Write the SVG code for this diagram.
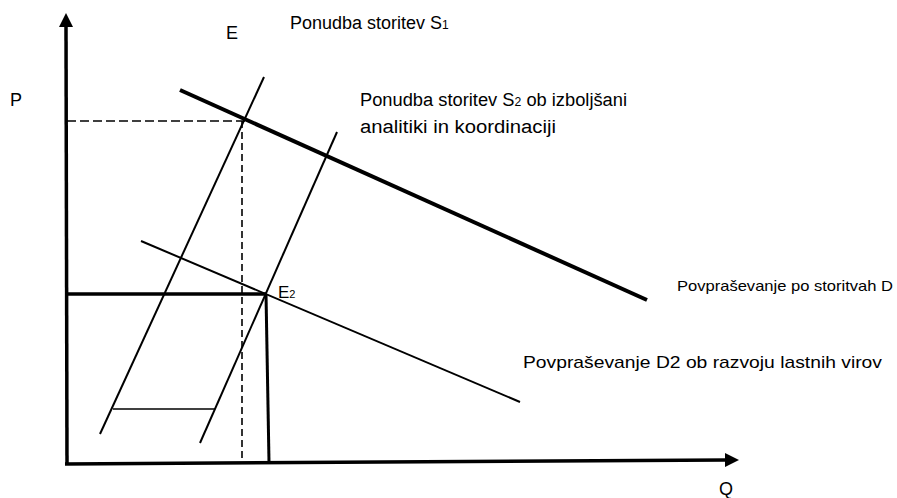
<svg xmlns="http://www.w3.org/2000/svg" width="897" height="498" viewBox="0 0 897 498">
<style>
text{font-family:"Liberation Sans",Arial,sans-serif;fill:#000}
.ln{stroke:#000;fill:none;stroke-linecap:butt}
.dash{stroke:#000;stroke-width:1.6;fill:none}
</style>
<defs>
<marker id="arr" viewBox="0 0 14 14" refX="1" refY="7" markerWidth="14" markerHeight="14" markerUnits="userSpaceOnUse" orient="auto">
<path d="M0,0 L14,7 L0,14 Z" fill="#000"/>
</marker>
</defs>
<rect width="897" height="498" fill="#fff"/>
<g id="axes">
<line class="ln" x1="67" y1="464" x2="66" y2="26" stroke-width="3.5" marker-end="url(#arr)"/>
<line class="ln" x1="65" y1="464" x2="726" y2="460" stroke-width="3.5" marker-end="url(#arr)"/>
</g>
<g id="connectors">
<line id="demandD" class="ln" x1="180" y1="90" x2="647" y2="300" stroke-width="4"/>
<line id="supplyS1" class="ln" x1="264" y1="77" x2="100" y2="434" stroke-width="2"/>
<line id="supplyS2" class="ln" x1="337" y1="132" x2="200" y2="443" stroke-width="2"/>
<line id="demandD2" class="ln" x1="141" y1="241" x2="520" y2="402" stroke-width="2"/>
<line id="shift" class="ln" x1="113" y1="409" x2="215" y2="409" stroke-width="1.6"/>
<line class="dash" x1="67" y1="121" x2="245" y2="121" stroke-dasharray="9,4"/>
<line class="dash" x1="242" y1="121" x2="242" y2="462" stroke-dasharray="7,4"/>
<line class="ln" x1="67" y1="294" x2="266" y2="294" stroke-width="3.5"/>
<line class="ln" x1="266" y1="294" x2="269" y2="462" stroke-width="3"/>
</g>
<g id="labels">
<text id="lblP" x="10" y="106" font-size="18">P</text>
<text id="lblQ" x="719" y="495" font-size="18">Q</text>
<text id="lblE" x="226" y="39" font-size="18">E</text>
<text id="lblE2" x="278" y="298" font-size="17">E<tspan font-size="11">2</tspan></text>
<text id="lblS1" x="290" y="29" font-size="18"><tspan textLength="152" lengthAdjust="spacingAndGlyphs">Ponudba storitev S</tspan><tspan font-size="12">1</tspan></text>
<text id="lblS2a" x="360" y="106" font-size="18" textLength="267" lengthAdjust="spacingAndGlyphs">Ponudba storitev S<tspan font-size="12">2</tspan> ob izboljšani</text>
<text id="lblS2b" x="360" y="133" font-size="18" textLength="196" lengthAdjust="spacingAndGlyphs">analitiki in koordinaciji</text>
<text id="lblD" x="677" y="291" font-size="15" textLength="216" lengthAdjust="spacingAndGlyphs">Povpraševanje po storitvah D</text>
<text id="lblD2" x="523" y="368" font-size="17" textLength="359" lengthAdjust="spacingAndGlyphs">Povpraševanje D2  ob razvoju lastnih virov</text>
</g>
</svg>
